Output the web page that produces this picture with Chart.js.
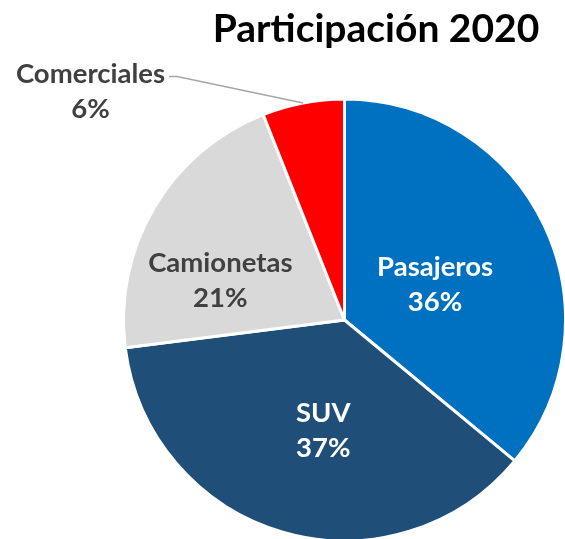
<!DOCTYPE html>
<html>
<head>
<meta charset="utf-8">
<script src="https://cdn.jsdelivr.net/npm/chart.js@4"></script>
<style>
  html, body { margin: 0; padding: 0; background: #fff; }
  #wrap { width: 565px; height: 539px; position: relative; }
</style>
</head>
<body>
<div id="wrap"><canvas id="pie"></canvas></div>
<script>
const titleText = 'Participación 2020';
const categories = ['Pasajeros', 'SUV', 'Camionetas', 'Comerciales'];
const shares = [36, 37, 21, 6];
const sliceColors = ['#0070C0', '#1F4E79', '#D9D9D9', '#FF0000'];
const labelColors = ['#FFFFFF', '#FFFFFF', '#404040', '#404040'];

const FONT = 'Lato, "Open Sans", sans-serif';

// where each label sits inside its slice: t = fraction along the arc, r = fraction of radius
const placement = [
  { t: 0.53, r: 0.44 },
  { t: 0.46, r: 0.51 },
  { t: 0.33, r: 0.59 },
  { outside: true, dx: -254, dy: -228 }
];

const labelPlugin = {
  id: 'sliceLabels',
  afterDatasetsDraw(chart) {
    const ctx = chart.ctx;
    const meta = chart.getDatasetMeta(0);
    const lineH = 35;
    ctx.save();
    ctx.font = 'bold 27.5px ' + FONT;
    ctx.textAlign = 'center';
    ctx.textBaseline = 'middle';
    meta.data.forEach((arc, i) => {
      const p = placement[i];
      const lines = [categories[i], shares[i] + '%'];
      let x, y;
      if (p.outside) {
        x = arc.x + p.dx;
        y = arc.y + p.dy;
        // leader line from the middle of the slice edge to the label
        const mid = (arc.startAngle + arc.endAngle) / 2;
        const ex = arc.x + Math.cos(mid) * arc.outerRadius;
        const ey = arc.y + Math.sin(mid) * arc.outerRadius;
        const w = ctx.measureText(lines[0]).width;
        const ly = y - lineH / 2 + 2;
        ctx.strokeStyle = '#A6A6A6';
        ctx.lineWidth = 1.5;
        ctx.beginPath();
        ctx.moveTo(ex, ey);
        ctx.lineTo(x + w / 2 + 12, ly);
        ctx.lineTo(x + w / 2 + 4, ly);
        ctx.stroke();
      } else {
        const a = arc.startAngle + p.t * (arc.endAngle - arc.startAngle);
        x = arc.x + Math.cos(a) * arc.outerRadius * p.r;
        y = arc.y + Math.sin(a) * arc.outerRadius * p.r;
      }
      ctx.fillStyle = labelColors[i];
      ctx.fillText(lines[0], x, y - lineH / 2);
      ctx.fillText(lines[1], x, y + lineH / 2);
    });
    ctx.restore();
  }
};

const titlePlugin = {
  id: 'topTitle',
  afterDraw(chart) {
    const ctx = chart.ctx;
    ctx.save();
    ctx.font = 'bold 39px ' + FONT;
    ctx.fillStyle = '#000000';
    ctx.textAlign = 'center';
    ctx.textBaseline = 'alphabetic';
    ctx.fillText(titleText, 376, 42);
    ctx.restore();
  }
};

new Chart(document.getElementById('pie'), {
  type: 'pie',
  data: {
    labels: categories,
    datasets: [{
      data: shares,
      backgroundColor: sliceColors,
      borderColor: '#FFFFFF',
      borderWidth: 3,
      radius: 221
    }]
  },
  options: {
    responsive: true,
    maintainAspectRatio: false,
    animation: false,
    layout: { padding: { left: 124, right: 0, top: 101, bottom: 0 } },
    plugins: {
      legend: { display: false },
      tooltip: { enabled: false }
    }
  },
  plugins: [labelPlugin, titlePlugin]
});
</script>
</body>
</html>
